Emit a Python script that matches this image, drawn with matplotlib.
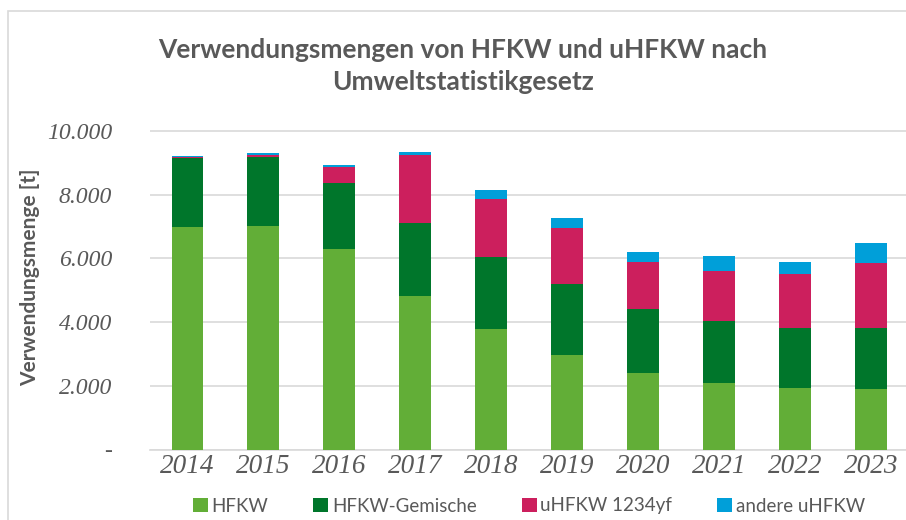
import matplotlib
matplotlib.use("Agg")
import matplotlib.pyplot as plt
import matplotlib.patches as mpatches
from matplotlib.ticker import FuncFormatter, MultipleLocator
import numpy as np

# Daten (Tonnen)
years = ['2014', '2015', '2016', '2017', '2018', '2019', '2020', '2021', '2022', '2023']
hfkw = [7000, 7010, 6280, 4820, 3770, 2960, 2410, 2080, 1940, 1890]
hfkw_gemische = [2150, 2180, 2080, 2280, 2280, 2250, 2000, 1970, 1870, 1930]
uhfkw_1234yf = [30, 60, 500, 2160, 1810, 1740, 1480, 1540, 1700, 2020]
andere_uhfkw = [50, 50, 60, 70, 280, 310, 320, 470, 380, 630]

series = [
    ('HFKW', hfkw, '#62AE37'),
    ('HFKW-Gemische', hfkw_gemische, '#00762B'),
    ('uHFKW 1234yf', uhfkw_1234yf, '#CC1F5D'),
    ('andere uHFKW', andere_uhfkw, '#009FD9'),
]

plt.rcParams['font.family'] = ['Lato', 'DejaVu Sans']
text_color = '#595959'

W, H = 906, 520
fig = plt.figure(figsize=(W / 100, H / 100), dpi=100)

# Rahmen um das Diagramm
fig.patches.append(mpatches.Rectangle((8 / W, -0.05), 1.1, 1 - 11 / H + 0.05,
                                      transform=fig.transFigure, fill=False,
                                      edgecolor='#d9d9d9', linewidth=1.2))

ymax = 10500
zero_px = 449.5
px_per_unit = 318.5 / 10000
top_px = zero_px - ymax * px_per_unit
left_px, right_px = 149.5, 909
ax = fig.add_axes([left_px / W, 1 - zero_px / H, (right_px - left_px) / W, (zero_px - top_px) / H])

x = np.arange(len(years))
bottom = np.zeros(len(years))
for name, vals, color in series:
    ax.bar(x, vals, width=0.42, bottom=bottom, color=color, label=name, zorder=3)
    bottom += np.array(vals)

ax.set_xlim(-0.5, len(years) - 0.5)
ax.set_ylim(0, ymax)
ax.yaxis.set_major_locator(MultipleLocator(2000))


def fmt(v, pos):
    if v == 0:
        return '-'
    return f'{int(v):,}'.replace(',', '.')


ax.yaxis.set_major_formatter(FuncFormatter(fmt))
ax.grid(axis='y', color='#d9d9d9', linewidth=1.2, zorder=0)
for s in ['top', 'right', 'left']:
    ax.spines[s].set_visible(False)
ax.spines['bottom'].set_color('#d9d9d9')
ax.spines['bottom'].set_linewidth(1.2)
ax.tick_params(axis='both', length=0, colors=text_color)
ax.tick_params(axis='y', pad=27)
ax.tick_params(axis='x', pad=3)
ax.set_xticks(x)
ax.set_xticklabels(years)
for lab in ax.get_xticklabels():
    lab.set_family('Liberation Serif')
    lab.set_style('italic')
    lab.set_fontsize(19.5)
    lab.set_color(text_color)
for lab in ax.get_yticklabels():
    lab.set_family('Liberation Serif')
    lab.set_style('italic')
    lab.set_fontsize(17)
    lab.set_color(text_color)

fig.text(30 / W, 1 - 277 / H, 'Verwendungsmenge [t]', rotation=90, ha='center', va='center',
         fontsize=15, fontweight='bold', color=text_color)

fig.text(463 / W, 1 - 66 / H, 'Verwendungsmengen von HFKW und uHFKW nach\nUmweltstatistikgesetz',
         ha='center', va='center', fontsize=19, fontweight='bold', color=text_color,
         linespacing=1.45)

leg = fig.legend(loc='center', bbox_to_anchor=(529 / W, 1 - 506 / H), ncol=4, frameon=False,
                 fontsize=13.5, handlelength=0.8, handleheight=0.8, handletextpad=0.2,
                 columnspacing=2.4, labelcolor=text_color)

fig.savefig('out.png', dpi=100)
